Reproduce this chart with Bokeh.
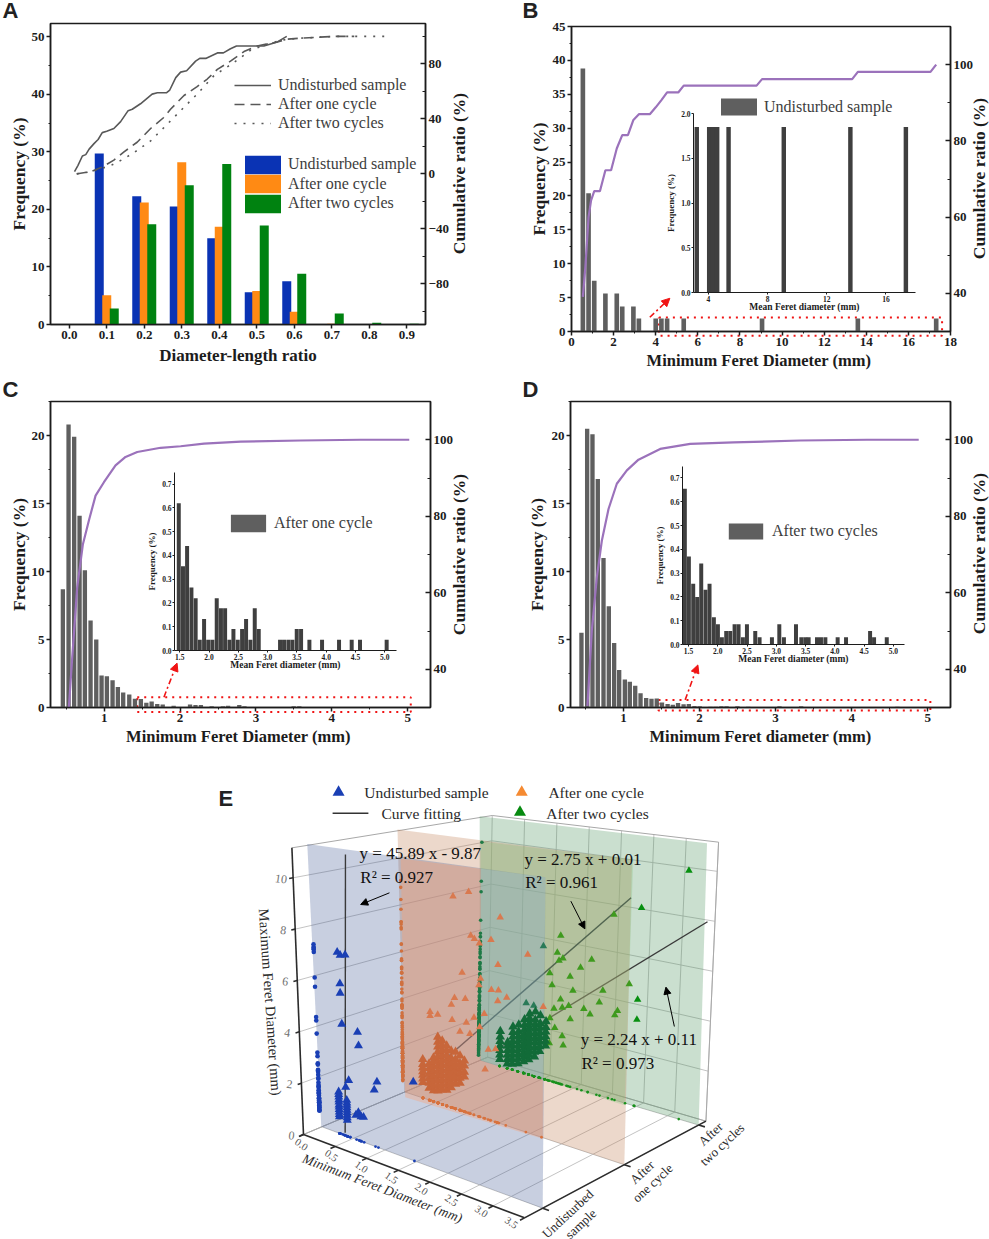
import numpy as np
from bokeh.plotting import figure
from bokeh.embed import file_html
from bokeh.resources import INLINE
from bokeh.models import (Range1d, LinearAxis, FixedTicker, SingleIntervalTicker, Legend, LegendItem,
                          Arrow, NormalHead, Label, NumeralTickFormatter)

# ---------- panel A ----------
a_ticks = [0.0, 0.1, 0.2, 0.3, 0.4, 0.5, 0.6, 0.7, 0.8, 0.9]
a_bins = [0.1, 0.2, 0.3, 0.4, 0.5, 0.6, 0.7, 0.8, 0.9]
a_undist = [29.7, 22.3, 20.5, 15.0, 5.6, 7.5, 0, 0, 0]
a_one = [5.1, 21.2, 28.2, 17.0, 5.8, 2.2, 0.15, 0, 0]
a_two = [2.8, 17.4, 24.2, 27.9, 17.2, 8.8, 1.9, 0.3, 0.15]
a_cu_x = [.014, .023, .035, .044, .053, .066, .077, .088, .1, .119, .137, .157, .168, .19, .221, .235, .259, .268,
          .284, .297, .313, .337, .348, .364, .395, .411, .43, .446, .519, .555, .564, .58]
a_cu_y = [1.7, 6, 13, 14, 18, 22, 25, 30, 31, 33, 38, 46, 47, 51, 58, 59, 59, 61, 70, 74, 75, 82, 84, 84, 88, 88, 91,
          93, 93, 96, 97.5, 100]
a_co_x = [.02, .03, .059, .088, .119, .146, .181, .217, .252, .27, .306, .341, .368, .395, .43, .466, .501, .528,
          .555, .581, .617, .661, .706, .76]
a_co_y = [0, .5, 1.7, 5, 10, 16, 23, 33, 41, 47, 57, 63.5, 69, 76, 82, 89, 93, 94.5, 96, 98, 98.7, 99.4, 100, 100]
a_ct_x = [.02, .06, .11, .146, .181, .217, .261, .297, .341, .386, .439, .484, .528, .572, .617, .706, .795, .857]
a_ct_y = [0, 1.7, 6, 11, 17, 24, 36, 46, 58, 71.5, 81, 90, 94.5, 97.5, 98.7, 100, 100, 100]

# ---------- panel B ----------
b_x = [.54, .81, 1.08, 1.61, 2.15, 2.41, 2.94, 3.2, 4.0, 4.27, 4.54, 5.33, 9.05, 13.6, 17.32]
b_f = [38.8, 20.4, 7.5, 5.6, 5.6, 3.7, 3.7, 1.9, 1.9, 1.9, 1.9, 1.9, 1.9, 1.9, 1.9]
b_cx = [.54, .66, .81, .93, 1.08, 1.35, 1.61, 1.88, 2.15, 2.41, 2.68, 2.94, 3.2, 3.72, 4.0, 4.27, 4.54, 5.07, 5.33,
        8.79, 9.05, 13.33, 13.6, 17.05, 17.32]
b_cy = [39.1, 47, 60, 64.4, 66.8, 66.8, 72.3, 72.3, 78, 81.5, 81.5, 85.5, 87, 87, 88.8, 90.7, 92.7, 92.7, 94.5, 94.5,
        96.2, 96.2, 98.1, 98.1, 100]
b_inset_x = [3.22, 4.06, 4.33, 4.6, 5.37, 9.1, 13.6, 17.35]
b_inset_f = [1.85, 1.85, 1.85, 1.85, 1.85, 1.85, 1.85, 1.85]

# ---------- panel C ----------
c_head_x = [.455, .53, .604, .675, .745, .82, .895, .965, 1.035, 1.11, 1.18, 1.25, 1.33, 1.405]
c_head_f = [8.7, 20.8, 19.9, 14.1, 10.1, 6.4, 5.0, 2.35, 2.3, 2.0, 1.5, 1.1, .95, .65]
c_tail_x = [1.483, 1.555, 1.625, 1.699, 1.771, 1.841, 1.915, 1.986, 2.057, 2.131, 2.203, 2.274, 2.348, 2.416, 2.49,
            2.564, 2.632, 2.706, 2.78, 2.848, 3.212, 3.28, 3.354, 3.423, 3.497, 3.571, 3.713, 3.929, 4.219, 4.435,
            4.577, 5.032]
c_tail_f = [.62, .355, .44, .265, .22, .045, .133, .045, .045, .22, .178, .178, .045, .09, .045, .09, .133, .045,
            .178, .09, .045, .045, .045, .045, .09, .09, .045, .045, .045, .045, .045, .045]
c_cx = [.534, .578, .644, .719, .798, .886, .996, 1.149, 1.281, 1.435, 1.743, 2.007, 2.315, 2.8, 3.59, 4.38, 5.02]
c_cy = [30, 43, 61.4, 72.7, 78.9, 85.4, 88.9, 93.3, 95.5, 96.8, 97.9, 98.3, 99, 99.5, 99.8, 100, 100]

# ---------- panel D ----------
d_head_x = [.447, .522, .592, .662, .737, .807, .877, .943, 1.018, 1.083, 1.154, 1.224, 1.298, 1.368]
d_head_f = [5.5, 20.5, 20.1, 16.8, 11.0, 7.45, 4.75, 2.75, 2.05, 1.9, 1.6, 1.05, .7, .65]
d_tail_x = [1.437, 1.506, 1.58, 1.648, 1.717, 1.79, 1.859, 1.933, 2.002, 2.07, 2.144, 2.213, 2.287, 2.355, 2.429,
            2.498, 2.64, 2.714, 2.925, 3.051, 3.13, 3.336, 3.427, 3.495, 3.552, 3.695, 3.763, 3.838, 4.048, 4.191,
            4.602, 4.67, 4.887]
d_tail_f = [.655, .37, .255, .2, .34, .23, .255, .115, .085, .03, .057, .057, .085, .085, .03, .085, .057, .03, .03,
            .085, .03, .085, .03, .03, .03, .03, .03, .03, .03, .03, .057, .03, .03]
d_cx = [.526, .583, .649, .715, .803, .912, 1.044, 1.197, 1.482, 1.877, 2.447, 3.325, 4.202, 4.882]
d_cy = [30.4, 50, 64, 73.6, 81.9, 88.5, 92, 94.8, 97.6, 98.9, 99.3, 99.8, 100, 100]

# ---------- panel E: (minimum Feret, maximum Feret) ----------
e_x_ticks = [0.0, 0.5, 1.0, 1.5, 2.0, 2.5, 3.0, 3.5]
e_z_ticks = [0, 2, 4, 6, 8, 10]
e_depths = [0.10, 0.55, 0.96]
e_blue_x = [.33, .374, .45, .357, .357, .368, .61, .62, .45, .40, .896, .85, 1.467,
            .286, .286, .286, .286, .286, .286, .286, .286, .286, .286, .286,
            .41, .41, .41, .41, .41, .41, .41, .41, .41, .55, .59, .63, .67]
e_blue_z = [6.99, 6.9, 6.95, 5.8, 5.44, 4.26, 4.12, 3.61, 2.17, 1.87, 2.45, 2.12, 2.87,
            1.6, 1.5, 1.4, 1.3, 1.21, 1.1, 1.02, .92, .83, .73, .64,
            1.38, 1.28, 1.19, 1.09, 1.0, .9, .81, .71, .62, .93, 1.06, .94, .95]
e_blue_wall_extra = [7.1, 6.8, 2.73, 2.4, 2.2, 2.0, 1.85, 1.7, 1.55, 1.3, 1.1, .9, .75, .6]
e_orange_x = [.773, 1.013, 1.5, 1.047, 1.103, 1.36, 1.18, 1.93, 1.47, .913, 1.2, 1.176, 1.37, 1.48, 1.61, 1.47, .795,
              .963, .745, .41, .41, .53, .756, .98, 1.1, 1.26, 1.19, 1.036, .88, 1.277, 1.327, 1.44, 2.18]
e_orange_z = [8.58, 8.87, 8.07, 7.13, 7.03, 7.12, 6.89, 6.83, 6.19, 5.57, 5.5, 5.23, 5.15, 5.2, 4.99, 4.77, 4.48,
              4.55, 4.17, 3.65, 3.49, 3.62, 3.56, 3.6, 3.88, 4.14, 3.56, 3.19, 3.17, 1.95, 2.77, 2.86, 4.97]
e_orange_cluster = {
    .29: [.65, .8, .95, 1.1, 1.25, 1.4, 1.6],
    .39: [.5, .7, .9, 1.1, 1.3, 1.5],
    .46: [.45, .65, .85, 1.05, 1.25, 1.45, 1.65, 1.8],
    .53: [.5, .7, .9, 1.1, 1.3, 1.5, 1.7, 1.9, 2.1, 2.3, 2.5, 2.7],
    .60: [.6, .8, 1.0, 1.2, 1.4, 1.6, 1.8, 2.0, 2.2, 2.4, 2.6],
    .67: [.65, .85, 1.05, 1.25, 1.45, 1.65, 1.85, 2.05, 2.25, 2.45],
    .74: [.8, 1.0, 1.2, 1.4, 1.6, 1.8, 2.0, 2.3],
    .81: [1.0, 1.2, 1.4, 1.6, 1.8, 2.0, 2.3],
    .88: [1.1, 1.3, 1.5, 1.7, 1.9, 2.2],
    .95: [1.4, 1.6, 1.85, 2.05],
}
e_orange_wall_extra = [2.9, 3.1, 3.3, 3.8, 4.3, 4.6, 5.0, 5.5, 5.9, 6.2, 7.66]
e_green_x = [3.18, 2.47, 2.045, 1.227, .96, 1.18, 1.27, 1.21, 1.72, 1.55, 1.07, 1.39, 2.46, 2.32, 1.91, 1.44, 1.11,
             1.86, 1.25, 1.15, 1.28, 1.38, 1.62, 1.72, 2.15, 2.11, 2.46, 1.41, 1.09, 1.17, 1.29, 1.09, 1.31, .71, .83]
e_green_z = [9.84, 8.07, 7.6, 6.31, 5.72, 5.56, 5.36, 5.23, 5.56, 5.13, 4.61, 4.66, 4.33, 4.88, 4.37, 4.09, 4.12,
             3.85, 3.6, 3.14, 3.26, 3.4, 3.43, 3.26, 3.68, 3.48, 3.51, 2.86, 2.69, 2.32, 2.05, 1.61, 1.67, 3.08, 3.05]
e_green_cluster = {
    .31: [.3, .5, .7, .9, 1.1, 1.3, 1.55],
    .43: [.2, .4, .6, .8, 1.0, 1.15],
    .51: [.25, .45, .65, .85, 1.05, 1.25, 1.45, 1.65, 1.9],
    .60: [.35, .55, .75, .95, 1.15, 1.35, 1.55, 1.75, 2.05],
    .69: [.5, .7, .9, 1.1, 1.3, 1.5, 1.7, 1.9, 2.1, 2.35],
    .77: [.65, .85, 1.05, 1.25, 1.45, 1.65, 1.85, 2.05, 2.25, 2.45, 2.65],
    .86: [.85, 1.05, 1.25, 1.45, 1.65, 1.85, 2.05, 2.25, 2.45, 2.8],
    .94: [1.15, 1.35, 1.55, 1.75, 1.95, 2.15, 2.35, 2.7],
    1.03: [1.45, 1.65, 1.85, 2.05, 2.25, 2.5],
}
e_green_wall_extra = [2.9, 3.1, 3.3, 3.5, 3.7, 3.9, 4.2, 4.4, 4.8, 5.0, 5.3]
e_fit_blue_x, e_fit_blue_z = [.37, .5], [0.1, 10.8]
e_fit_orange_x, e_fit_orange_z = [.28, 3.5], [.78, 9.63]
e_fit_green_x, e_fit_green_z = [.30, 3.5], [.78, 7.95]

SERIF = "Liberation Serif"
SANS = "Liberation Sans"
DARK = "#1c1c1c"
GRAY = "#5f5f5f"
INK = "#3d3d3d"
PURPLE = "#9b72bb"
RED = "#f01414"

root = figure(width=989, height=1239, x_range=Range1d(0, 989), y_range=Range1d(1239, 0), output_backend="svg",
              toolbar_location=None, min_border=0, outline_line_color=None, x_axis_location=None, y_axis_location=None,
              styles={"position": "absolute", "left": "0px", "top": "0px"})
root.grid.visible = False


def styled_axis(ax, ticker, size="13px", title_size="16.5px", standoff=3, lab_standoff=2, tick_out=4, tick_in=0,
                minor_out=2, minor_in=0, width=1.5):
    ax.ticker = ticker
    ax.major_label_text_font = SERIF
    ax.major_label_text_font_style = "bold"
    ax.major_label_text_font_size = size
    ax.major_label_text_color = DARK
    ax.major_label_standoff = lab_standoff
    ax.axis_label_text_font = SERIF
    ax.axis_label_text_font_style = "bold"
    ax.axis_label_text_font_size = title_size
    ax.axis_label_text_color = DARK
    ax.axis_label_standoff = standoff
    ax.axis_line_color = DARK
    ax.axis_line_width = width
    ax.major_tick_line_color = DARK
    ax.minor_tick_line_color = DARK
    ax.major_tick_line_width = width
    ax.minor_tick_line_width = 1
    ax.major_tick_out = tick_out
    ax.major_tick_in = tick_in
    ax.minor_tick_out = minor_out
    ax.minor_tick_in = minor_in


def panel(frame, fig_box, xr, yr, rr, xtick, ytick, rtick, xlabel, ylabel, lstand, bstand, xsize="16.5px"):
    fl, ft, fr, fb = frame
    left, top, right, bottom = fig_box
    p = figure(width=right - left, height=bottom - top, x_range=Range1d(*xr), y_range=Range1d(*yr),
               output_backend="svg", toolbar_location=None, background_fill_color=None, border_fill_color=None,
               min_border_left=round(fl - left), min_border_right=round(right - fr), min_border_top=round(ft - top),
               min_border_bottom=round(bottom - fb), outline_line_color=DARK, outline_line_width=1.5,
               styles={"position": "absolute", "left": f"{left}px", "top": f"{top}px"})
    p.grid.visible = False
    p.xaxis.axis_label = xlabel
    p.yaxis.axis_label = ylabel
    styled_axis(p.xaxis[0], xtick, standoff=bstand, title_size=xsize)
    styled_axis(p.yaxis[0], ytick, standoff=lstand, title_size="17.5px")
    p.extra_y_ranges = {"r": Range1d(*rr)}
    ra = LinearAxis(y_range_name="r")
    styled_axis(ra, rtick, tick_out=0, tick_in=5, minor_out=0, minor_in=3, lab_standoff=3)
    p.add_layout(ra, "right")
    return p


def inset(frame, xr, yr, xtick, ytick, x, f, bw):
    fl, ft, fr, fb = frame
    ml, mr, mt, mb = 34, 6, 4, 28
    p = figure(width=round(fr - fl) + ml + mr, height=round(fb - ft) + mt + mb, x_range=Range1d(*xr),
               y_range=Range1d(*yr), output_backend="svg", toolbar_location=None, background_fill_color=None,
               border_fill_color=None, min_border_left=ml, min_border_right=mr, min_border_top=mt, min_border_bottom=mb,
               outline_line_color=None,
               styles={"position": "absolute", "left": f"{round(fl) - ml}px", "top": f"{round(ft) - mt}px"})
    p.grid.visible = False
    p.xaxis.axis_label = "Mean Feret diameter (mm)"
    p.yaxis.axis_label = "Frequency (%)"
    styled_axis(p.xaxis[0], xtick, size="7.5px", title_size="9.5px", standoff=-3, lab_standoff=1, tick_out=2, minor_out=0,
                width=1)
    styled_axis(p.yaxis[0], ytick, size="7.5px", title_size="9px", standoff=2, lab_standoff=1, tick_out=2, minor_out=1,
                width=1)
    p.vbar(x=x, top=f, width=bw, color="#3f3f3f", line_width=0)
    return p


def no_box(leg, size="16px"):
    leg.background_fill_alpha = 0
    leg.border_line_alpha = 0
    leg.margin = 0
    leg.padding = 0
    leg.label_text_font = SERIF
    leg.label_text_font_size = size
    leg.label_text_color = INK
    return leg


def red_frame(p, frame, x0, x1, y0, y1, ax0, ay0, ax1, ay1):
    fl, ft, fr, fb = frame
    px = lambda v: fl + (v - p.x_range.start) / (p.x_range.end - p.x_range.start) * (fr - fl)
    py = lambda v: fb - (v - p.y_range.start) / (p.y_range.end - p.y_range.start) * (fb - ft)
    root.line([px(x0), px(x1), px(x1), px(x0), px(x0)], [py(y1), py(y1), py(y0), py(y0), py(y1)], color=RED,
              line_width=2, line_dash="2 5")
    p.add_layout(Arrow(end=NormalHead(size=8, fill_color=RED, line_color=RED), x_start=ax0, y_start=ay0, x_end=ax1,
                       y_end=ay1, line_color=RED, line_width=1.6, line_dash="6 3 2 3"))


# ---------- A ----------
pa = panel((50, 23, 425, 324), (0, 0, 495, 372), (-.05, .95), (0, 52.3), (-109.6, 109.4),
           FixedTicker(ticks=a_ticks), SingleIntervalTicker(interval=10, num_minor_ticks=2),
           SingleIntervalTicker(interval=40, num_minor_ticks=2),
           "Diameter-length ratio", "Frequency (%)", 0, 4, xsize="17px")
pa.xaxis[0].formatter = NumeralTickFormatter(format="0.0")
a_b = np.array(a_bins)
r1 = pa.vbar(x=a_b - .02, top=a_undist, width=.024, color="#0a33b4", line_width=0)
r2 = pa.vbar(x=a_b, top=a_one, width=.024, color="#ff8a14", line_width=0)
r3 = pa.vbar(x=a_b + .02, top=a_two, width=.024, color="#008210", line_width=0)
l1 = pa.line(a_cu_x, a_cu_y, y_range_name="r", color="#585858", line_width=1.6)
l2 = pa.line(a_co_x, a_co_y, y_range_name="r", color="#585858", line_width=1.6, line_dash="10 6")
l3 = pa.line(a_ct_x, a_ct_y, y_range_name="r", color="#585858", line_width=1.6, line_dash="2 7")
pa.add_layout(no_box(Legend(items=[LegendItem(label="Undisturbed sample", renderers=[l1]),
                                   LegendItem(label="After one cycle", renderers=[l2]),
                                   LegendItem(label="After two cycles", renderers=[l3])],
                            location=(184, 192), glyph_width=37, glyph_height=18, label_standoff=7, spacing=1,
                            label_height=18)))
for lab, rend, ly in [("Undisturbed sample", r1, 148.5), ("After one cycle", r2, 129), ("After two cycles", r3, 109.5)]:
    pa.add_layout(no_box(Legend(items=[LegendItem(label=lab, renderers=[rend])], location=(190, ly), glyph_width=45,
                                glyph_height=23, label_standoff=3)))

# ---------- B ----------
fb_ = (571, 26, 950, 332)
pb = panel(fb_, (500, 0, 989, 372), (0, 18), (0, 45), (30, 110),
           SingleIntervalTicker(interval=2, num_minor_ticks=2), SingleIntervalTicker(interval=5, num_minor_ticks=2),
           SingleIntervalTicker(interval=20, num_minor_ticks=2),
           "Minimum  Feret Diameter (mm)", "Frequency (%)", 1, 2)
rb = pb.vbar(x=b_x, top=b_f, width=.22, color=GRAY, line_width=0)
pb.line(b_cx, b_cy, y_range_name="r", color=PURPLE, line_width=2.2)
red_frame(pb, fb_, 4.15, 17.6, -.49, 2.2, 3.72, 2.1, 4.67, 4.9)
pb.add_layout(no_box(Legend(items=[LegendItem(label="Undisturbed sample", renderers=[rb])], location=(145, 214),
                            glyph_width=45, glyph_height=21, label_standoff=3)))
ib = inset((692.7, 113.3, 915, 292), (3, 18), (0, 2), FixedTicker(ticks=[4, 8, 12, 16]),
           FixedTicker(ticks=[0, .5, 1, 1.5, 2]), b_inset_x, b_inset_f, .3)
ib.yaxis[0].formatter = NumeralTickFormatter(format="0.0")

# ---------- C ----------
fc_ = (50, 401, 430, 707)
pc = panel(fc_, (0, 380, 495, 760), (.292, 5.3), (0, 22.5), (30, 110),
           SingleIntervalTicker(interval=1, num_minor_ticks=2), SingleIntervalTicker(interval=5, num_minor_ticks=2),
           SingleIntervalTicker(interval=20, num_minor_ticks=2),
           "Minimum  Feret Diameter (mm)", "Frequency (%)", 0, 2)
rc = pc.vbar(x=c_head_x + c_tail_x, top=c_head_f + c_tail_f, width=.057, color=GRAY, line_width=0)
pc.line(c_cx, c_cy, y_range_name="r", color=PURPLE, line_width=2.2)
red_frame(pc, fc_, 1.435, 5.04, -.34, .76, 1.787, .76, 1.96, 3.26)
pc.add_layout(no_box(Legend(items=[LegendItem(label="After one cycle", renderers=[rc])], location=(176, 173),
                            glyph_width=44, glyph_height=22, label_standoff=4)))
ic = inset((173.7, 471.7, 395.7, 649.7), (1.41, 5.2), (0, .749), FixedTicker(ticks=[1.5, 2, 2.5, 3, 3.5, 4, 4.5, 5]),
           FixedTicker(ticks=[0, .1, .2, .3, .4, .5, .6, .7]), c_tail_x, c_tail_f, .068)
ic.xaxis[0].formatter = NumeralTickFormatter(format="0.0")
ic.yaxis[0].formatter = NumeralTickFormatter(format="0.0")

# ---------- D ----------
fd_ = (570, 401, 950, 707)
pd_ = panel(fd_, (500, 380, 989, 760), (.303, 5.3), (0, 22.5), (30, 110),
            SingleIntervalTicker(interval=1, num_minor_ticks=2), SingleIntervalTicker(interval=5, num_minor_ticks=2),
            SingleIntervalTicker(interval=20, num_minor_ticks=2),
            "Minimum Feret diameter (mm)", "Frequency (%)", 2, 2)
rd = pd_.vbar(x=d_head_x + d_tail_x, top=d_head_f + d_tail_f, width=.057, color=GRAY, line_width=0)
pd_.line(d_cx, d_cy, y_range_name="r", color=PURPLE, line_width=2.2)
red_frame(pd_, fd_, 1.46, 5.035, -.22, .56, 1.811, .56, 1.978, 3.13)
pd_.add_layout(no_box(Legend(items=[LegendItem(label="After two cycles", renderers=[rd])], location=(154, 166),
                             glyph_width=43, glyph_height=20, label_standoff=5)))
id_ = inset((682.3, 465.7, 904, 643.7), (1.397, 5.19), (0, .748), FixedTicker(ticks=[1.5, 2, 2.5, 3, 3.5, 4, 4.5, 5]),
            FixedTicker(ticks=[0, .1, .2, .3, .4, .5, .6, .7]), d_tail_x, d_tail_f, .068)
id_.xaxis[0].formatter = NumeralTickFormatter(format="0.0")
id_.yaxis[0].formatter = NumeralTickFormatter(format="0.0")


# ---------- panel E on the page figure ----------
def Z(zx, zy):
    return 210 + zx / 2.85, 770 + zy / 3


C000, C100, C110, C010 = map(np.array, [Z(265, 1092), Z(895, 1342), Z(1412, 1052), Z(790, 860)])
C001, C101, C111, C011 = map(np.array, [Z(232, 232), Z(900, 332), Z(1448, 215), Z(803, 135)])


def proj(x, d, z):
    x, d, z = np.asarray(x, float), np.asarray(d, float), np.asarray(z, float)
    tx, tz = x / 3.5, z / 11.0
    out = []
    for i in range(2):
        b = (C000[i] * (1 - tx) + C100[i] * tx) * (1 - d) + (C010[i] * (1 - tx) + C110[i] * tx) * d
        t = (C001[i] * (1 - tx) + C101[i] * tx) * (1 - d) + (C011[i] * (1 - tx) + C111[i] * tx) * d
        out.append(b * (1 - tz) + t * tz)
    return out


def seg(x0, d0, z0, x1, d1, z1, **kw):
    a = proj(x0, d0, z0)
    b = proj(x1, d1, z1)
    root.line([float(a[0]), float(b[0])], [float(a[1]), float(b[1])], **kw)


def plane(d, color, alpha, x_right_top=3.5):
    px, py = proj([-.07, x_right_top, 3.5, -.01], [d] * 4, [11, 11, 0, 0])
    root.patch(px, py, fill_color=color, fill_alpha=alpha, line_width=0, line_alpha=0)


def tint(points, color, alpha):
    xs, ys = zip(*[Z(*q) for q in points])
    root.patch(list(xs), list(ys), fill_color=color, fill_alpha=alpha, line_width=0, line_alpha=0)


def text(zxy, s, size, angle=0, color="#2a2a2a", align="left", base="middle", font=SERIF, style="normal"):
    x, y = zxy
    root.add_layout(Label(x=x, y=y, text=s, text_font=font, text_font_size=size, angle=angle, angle_units="deg",
                          text_color=color, text_align=align, text_baseline=base, text_font_style=style))


def columns(table):
    xs = [k for k, v in table.items() for _ in v]
    zs = [z for v in table.values() for z in v]
    return xs, zs


# right-hand axis titles of A to D
for cx, cy in [(458, 173), (978, 178), (458, 554), (978, 553)]:
    text((cx, cy), "Cumulative ratio (%)", "17.5px", angle=90, color=DARK, align="center", style="bold")

# grid of the box
GRID = dict(color="#bcbcbc", line_width=0.9)
for zt in e_z_ticks:
    zp = zt * .985
    seg(0, 0, zp, 0, 1, zp, **GRID)
    seg(0, 1, zp, 3.5, 1, zp, **GRID)
for xt in e_x_ticks:
    seg(xt, 0, 0, xt, 1, 0, **GRID)
    seg(xt, 1, 0, xt, 1, 11, **GRID)
for dt in e_depths:
    seg(0, dt, 0, 3.5, dt, 0, **GRID)
seg(0, 0, 11, 0, 1, 11, color="#a8a8a8", line_width=1)
seg(0, 1, 11, 3.5, 1, 11, color="#a8a8a8", line_width=1)
seg(3.5, 1, 0, 3.5, 1, 11, color="#a8a8a8", line_width=1)
seg(0, 0, 0, 0, 1, 0, color="#a8a8a8", line_width=1)
seg(0, 1, 0, 3.5, 1, 0, color="#a8a8a8", line_width=1)

# planes and fits, back to front
FIT = dict(color="#3a3a3a", line_width=1.4)
plane(e_depths[2], "#4f9560", .30, x_right_top=3.44)
gx, gy = proj(e_fit_green_x, [e_depths[2]] * 2, e_fit_green_z)
root.line(gx, gy, **FIT)
plane(e_depths[1], "#c07d52", .30)
ox, oy = proj(e_fit_orange_x, [e_depths[1]] * 2, e_fit_orange_z)
root.line(ox, oy, **FIT)
plane(e_depths[0], "#485f98", .30)
tint([(542, 264), (770, 295), (770, 870), (947, 928), (947, 1105), (555, 980)], "#ff9d6c", .35)
tint([(770, 295), (955, 320), (947, 928), (770, 870)], "#aaefc3", .30)
tint([(770, 213), (1205, 268), (1180, 1004), (947, 928), (955, 320), (770, 295)], "#87c886", .30)
bx, by = proj(e_fit_blue_x, [e_depths[0]] * 2, e_fit_blue_z)
root.line(bx, by, **FIT)

# markers: green, orange, blue with their wall and floor projections
g_cx, g_cz = columns(e_green_cluster)
g_all_x, g_all_z = e_green_x + g_cx, e_green_z + g_cz
dg = e_depths[2]
wall = -.03
sx, sy = proj(wall + 0 * np.array(g_all_z + e_green_wall_extra), dg, g_all_z + e_green_wall_extra)
root.scatter(sx, sy, marker="circle", size=3.6, color="#1e7a46", line_width=0)
sx, sy = proj(g_all_x, dg, 0 * np.array(g_all_x))
root.scatter(sx, sy, marker="circle", size=2.6, color="#18901c", line_width=0)
sx, sy = proj(e_green_x, dg, e_green_z)
gcol = np.where(sx < Z(950, 0)[0], "#2a7a58", np.where(sx < Z(1205, 0)[0], "#3f9a1e", "#078f10"))
root.scatter(sx, sy, marker="triangle", size=7.5, color=list(gcol), line_width=0)
sx, sy = proj(g_cx, dg, g_cz)
root.scatter(sx, sy, marker="triangle", size=9.5, color="#126b38", line_width=0)

o_cx, o_cz = columns(e_orange_cluster)
o_all_x, o_all_z = e_orange_x + o_cx, e_orange_z + o_cz
do = e_depths[1]
sx, sy = proj(wall + 0 * np.array(o_all_z + e_orange_wall_extra), do, o_all_z + e_orange_wall_extra)
root.scatter(sx, sy, marker="circle", size=3.6, color="#d0703e", line_width=0)
sx, sy = proj(o_all_x, do, 0 * np.array(o_all_x))
root.scatter(sx, sy, marker="circle", size=2.8, color="#d8723e", line_width=0)
sx, sy = proj(e_orange_x, do, e_orange_z)
root.scatter(sx, sy, marker="triangle", size=7.5, color="#d9794f", line_width=0)
sx, sy = proj(o_cx, do, o_cz)
root.scatter(sx, sy, marker="triangle", size=9.5, color="#c8663a", line_width=0)

db = e_depths[0]
sx, sy = proj(wall + 0 * np.array(e_blue_z + e_blue_wall_extra), db, e_blue_z + e_blue_wall_extra)
root.scatter(sx, sy, marker="circle", size=4.6, color="#1a3fb4", line_width=0)
sx, sy = proj(e_blue_x, db, 0 * np.array(e_blue_x))
root.scatter(sx, sy, marker="circle", size=2.8, color="#1a3fb4", line_width=0)
sx, sy = proj(e_blue_x, db, e_blue_z)
root.scatter(sx, sy, marker="triangle", size=9, color="#1a3fb4", line_width=0)

# 3-D axes
AX = dict(color="#2c2c2c", line_width=1.6)
seg(0, 0, 0, 0, 0, 11, **AX)
seg(0, 0, 0, 3.5, 0, 0, **AX)
seg(3.5, 0, 0, 3.5, 1, 0, **AX)
for zt in e_z_ticks:
    seg(0, 0, zt * .985, 0, -.02, zt * .985, **AX)
for xt in e_x_ticks:
    seg(xt, 0, 0, xt, -.025, 0, **AX)
for dt in e_depths:
    seg(3.5, dt, 0, 3.6, dt, 0, **AX)
for zt in e_z_ticks:
    qx, qy = proj(0, 0, zt * .985)
    text((float(qx) - 12, float(qy) + 1), str(zt), "12px", angle=-8, color="#707070", align="center")
for xt in e_x_ticks:
    qx, qy = proj(xt, 0, 0)
    text((float(qx) - 2 - 3.2 * xt, float(qy) + 10 - 1.5 * xt), f"{xt:.1f}", "10.5px", angle=-35, color="#505050",
         align="center")
text(Z(170, 695), "Maximum Feret Diameter (mm)", "14.5px", angle=-86, align="center")
text(Z(490, 1253), "Minimum Feret Diameter (mm)", "13.5px", angle=-21, align="center", style="italic")
text(Z(1018, 1330), "Undisturbed", "13px", angle=43, align="center")
text(Z(1055, 1360), "sample", "13px", angle=43, align="center")
text(Z(1230, 1205), "After", "13px", angle=43, align="center")
text(Z(1260, 1237), "one cycle", "13px", angle=43, align="center")
text(Z(1425, 1090), "After", "13px", angle=43, align="center")
text(Z(1458, 1122), "two cycles", "13px", angle=43, align="center")

# legend of E
for zx, zy, c in [(365, 65, "#1a3fb4"), (887, 65, "#f58a32"), (882, 125, "#078a10")]:
    qx, qy = Z(zx, zy)
    root.scatter([qx], [qy], marker="triangle", size=12, color=c, line_width=0)
q0, q1 = Z(348, 128), Z(450, 128)
root.line([q0[0], q1[0]], [q0[1], q1[1]], color="#333333", line_width=1.5)
text(Z(438, 67), "Undisturbed sample", "15.5px")
text(Z(487, 128), "Curve fitting", "15.5px")
text(Z(963, 67), "After one cycle", "15.5px")
text(Z(957, 128), "After two cycles", "15.5px")

# equations
text(Z(425, 248), "y = 45.89 x - 9.87", "17px", color="#111111")
text(Z(427, 322), "R² = 0.927", "17px", color="#111111")
text(Z(895, 268), "y = 2.75 x + 0.01", "17px", color="#111111")
text(Z(897, 336), "R² = 0.961", "17px", color="#111111")
text(Z(1055, 808), "y = 2.24 x + 0.11", "17px", color="#111111")
text(Z(1057, 880), "R² = 0.973", "17px", color="#111111")
for (a, b) in [((510, 367), (428, 402)), ((1027, 392), (1067, 475)), ((1322, 768), (1298, 650))]:
    qa, qb = Z(*a), Z(*b)
    root.add_layout(Arrow(end=NormalHead(size=7, fill_color="black", line_color="black"), x_start=qa[0], y_start=qa[1],
                          x_end=qb[0], y_end=qb[1], line_color="black", line_width=1))

# panel letters
for s, x, y in [("A", 2, 10), ("B", 522, 10), ("C", 2, 389), ("D", 522, 389), ("E", 218, 798)]:
    text((x, y), s, "22px", font=SANS, style="bold", color="#222222")

open("out.html", "w").write(file_html([root, pa, pb, pc, pd_, ib, ic, id_], INLINE))
